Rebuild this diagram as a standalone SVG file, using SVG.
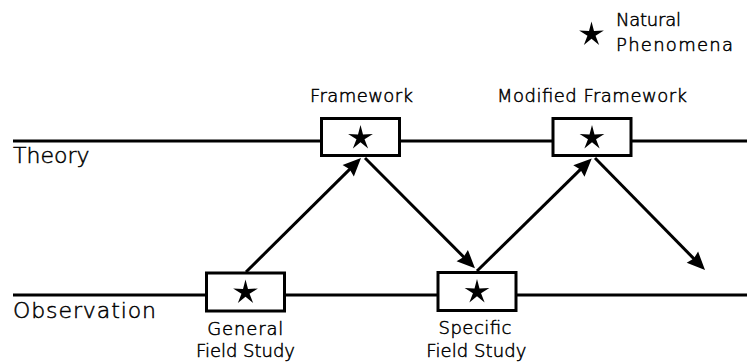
<svg xmlns="http://www.w3.org/2000/svg" xmlns:xlink="http://www.w3.org/1999/xlink" width="747" height="363" viewBox="0 0 747 363">
  <style>
    .axis { stroke: #000; stroke-width: 3; fill: none; }
    .box { fill: #fff; stroke: #000; stroke-width: 3; }
    .star { fill: #000; }
    .conn { stroke: #000; stroke-width: 3; fill: none; marker-end: url(#arrow); }
    text { font-family: "DejaVu Sans", "Liberation Sans", sans-serif; font-weight: 300; fill: #000; stroke: #000; stroke-width: 0.5; }
    .lbl { font-size: 18px; }
    .axlbl { font-size: 22px; }
    .mid { text-anchor: middle; }
  </style>
  <defs>
    <path id="star" d="M0,-13 L2.5,-3.44 L12.36,-4.02 L4.05,1.31 L7.64,10.52 L0,4.25 L-7.64,10.52 L-4.05,1.31 L-12.36,-4.02 L-2.5,-3.44 Z"/>
    <marker id="arrow" viewBox="-20 -10 22 20" markerWidth="22" markerHeight="20" refX="-10" refY="0" orient="auto" markerUnits="userSpaceOnUse">
      <path d="M0,0 L-18,-8 L-16,0 L-18,8 Z" fill="#000"/>
    </marker>
  </defs>
  <rect width="747" height="363" fill="#fff"/>

  <g id="axes">
    <line class="axis" x1="13" y1="141" x2="747" y2="141"/>
    <line class="axis" x1="13" y1="295" x2="747" y2="295"/>
    <text class="axlbl" x="13" y="163">Theory</text>
    <text class="axlbl" x="13" y="318" textLength="143" lengthAdjust="spacing">Observation</text>
  </g>

  <g id="connectors">
    <line class="conn" x1="246" y1="272" x2="353.9" y2="165.1"/>
    <line class="conn" x1="365" y1="158" x2="467.9" y2="261.2"/>
    <line class="conn" x1="477" y1="271" x2="584.6" y2="165.4"/>
    <line class="conn" x1="595" y1="158" x2="698" y2="262.9"/>
  </g>

  <g id="framework">
    <rect class="box" x="321.5" y="118.5" width="78" height="37"/>
    <use xlink:href="#star" href="#star" class="star" x="360.5" y="138"/>
    <text class="lbl mid" x="361.5" y="102" textLength="103" lengthAdjust="spacing">Framework</text>
  </g>

  <g id="modified-framework">
    <rect class="box" x="553" y="118.5" width="78" height="37"/>
    <use xlink:href="#star" href="#star" class="star" x="592" y="138"/>
    <text class="lbl mid" x="592" y="102" textLength="190" lengthAdjust="spacing">Modified Framework</text>
  </g>

  <g id="general-field-study">
    <rect class="box" x="206.5" y="273" width="78" height="38"/>
    <use xlink:href="#star" href="#star" class="star" x="245.5" y="292.5"/>
    <text class="lbl mid" x="245.3" y="335" textLength="76" lengthAdjust="spacing">General</text>
    <text class="lbl mid" x="245.5" y="357" textLength="99" lengthAdjust="spacing">Field Study</text>
  </g>

  <g id="specific-field-study">
    <rect class="box" x="438" y="272.5" width="78" height="38"/>
    <use xlink:href="#star" href="#star" class="star" x="477" y="292"/>
    <text class="lbl mid" x="475" y="333.5" textLength="73" lengthAdjust="spacing">Specific</text>
    <text class="lbl mid" x="476.3" y="357" textLength="100" lengthAdjust="spacing">Field Study</text>
  </g>

  <g id="legend">
    <use xlink:href="#star" href="#star" class="star" x="591.5" y="34.5"/>
    <text class="lbl" x="616" y="26" textLength="65" lengthAdjust="spacing">Natural</text>
    <text class="lbl" x="616" y="51" textLength="117" lengthAdjust="spacing">Phenomena</text>
  </g>
</svg>
